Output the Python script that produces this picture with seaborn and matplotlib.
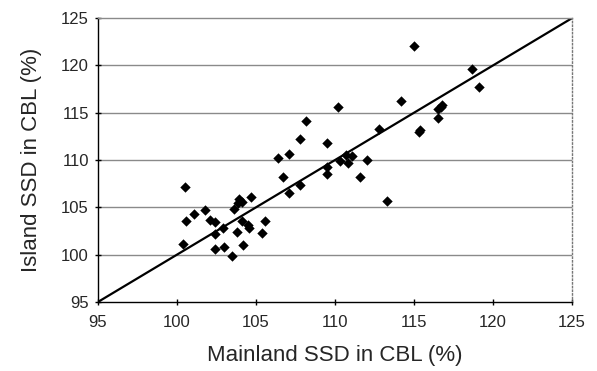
import numpy as np
import pandas as pd
import matplotlib
matplotlib.use("Agg")
import matplotlib.pyplot as plt
import seaborn as sns

# mainland vs island SSD (%)
mainland = [100.5, 100.6, 101.1, 101.8, 102.1, 102.4, 100.4, 102.9, 102.4, 102.4,
            102.95, 103.5, 103.6, 103.85, 103.9, 104.1, 104.7, 104.1, 103.8, 104.5,
            104.55, 104.2, 105.6, 105.4, 106.7, 107.1, 106.4, 107.1, 107.8, 107.8,
            108.2, 109.5, 109.5, 109.5, 110.2, 110.3, 110.85, 110.7, 111.1, 112.0,
            111.6, 112.8, 113.3, 114.2, 115.0, 115.3, 115.4, 116.5, 116.5, 116.7,
            116.8, 118.7, 119.1]
island = [107.2, 103.6, 104.3, 104.7, 103.7, 103.5, 101.1, 102.8, 102.2, 100.6,
          100.8, 99.9, 104.8, 105.5, 105.9, 105.6, 106.1, 103.6, 102.4, 103.1,
          102.8, 101.0, 103.6, 102.3, 108.2, 106.5, 110.2, 110.6, 112.2, 107.4,
          114.1, 111.8, 109.3, 108.5, 115.6, 109.9, 109.65, 110.5, 110.4, 110.0,
          108.2, 113.3, 105.7, 116.2, 122.1, 113.0, 113.2, 114.5, 115.4, 115.6,
          115.8, 119.6, 117.7]
ticks = [95, 100, 105, 110, 115, 120, 125]

df = pd.DataFrame({"mainland": mainland, "island": island})

sns.set_theme(style="white")
plt.rcParams["font.family"] = ["Liberation Sans", "DejaVu Sans"]

fig = plt.figure(figsize=(5.97, 3.71), dpi=100)
ax = fig.add_axes([0.164, 0.186, 0.794, 0.765])

for t in ticks[1:-1]:
    ax.axhline(t, color="#8a8a8a", lw=1, zorder=0)

# 1:1 line
ax.plot([ticks[0], ticks[-1]], [ticks[0], ticks[-1]], color="black", lw=1.6, zorder=2)

sns.scatterplot(data=df, x="mainland", y="island", marker="D", s=28,
                color="black", edgecolor="black", linewidth=0, ax=ax, zorder=3)

ax.set_xlim(95, 125)
ax.set_ylim(95, 125)
ax.set_xticks(ticks)
ax.set_yticks(ticks)
ax.tick_params(axis="both", labelsize=12, direction="inout", length=5,
               width=1, color="black", left=True, bottom=True)
ax.tick_params(axis="x", pad=7)
ax.tick_params(axis="y", pad=4)

for side in ["left", "bottom"]:
    ax.spines[side].set_color("black")
    ax.spines[side].set_linewidth(1)
ax.spines["top"].set_color("#8a8a8a")
ax.spines["top"].set_linewidth(1)
ax.spines["right"].set_color("#777777")
ax.spines["right"].set_linestyle(":")
ax.spines["right"].set_linewidth(1)

ax.set_xlabel("Mainland SSD in CBL (%)", fontsize=16, labelpad=11)
ax.set_ylabel("Island SSD in CBL (%)", fontsize=16, labelpad=14)

fig.savefig("out.png", dpi=100)
